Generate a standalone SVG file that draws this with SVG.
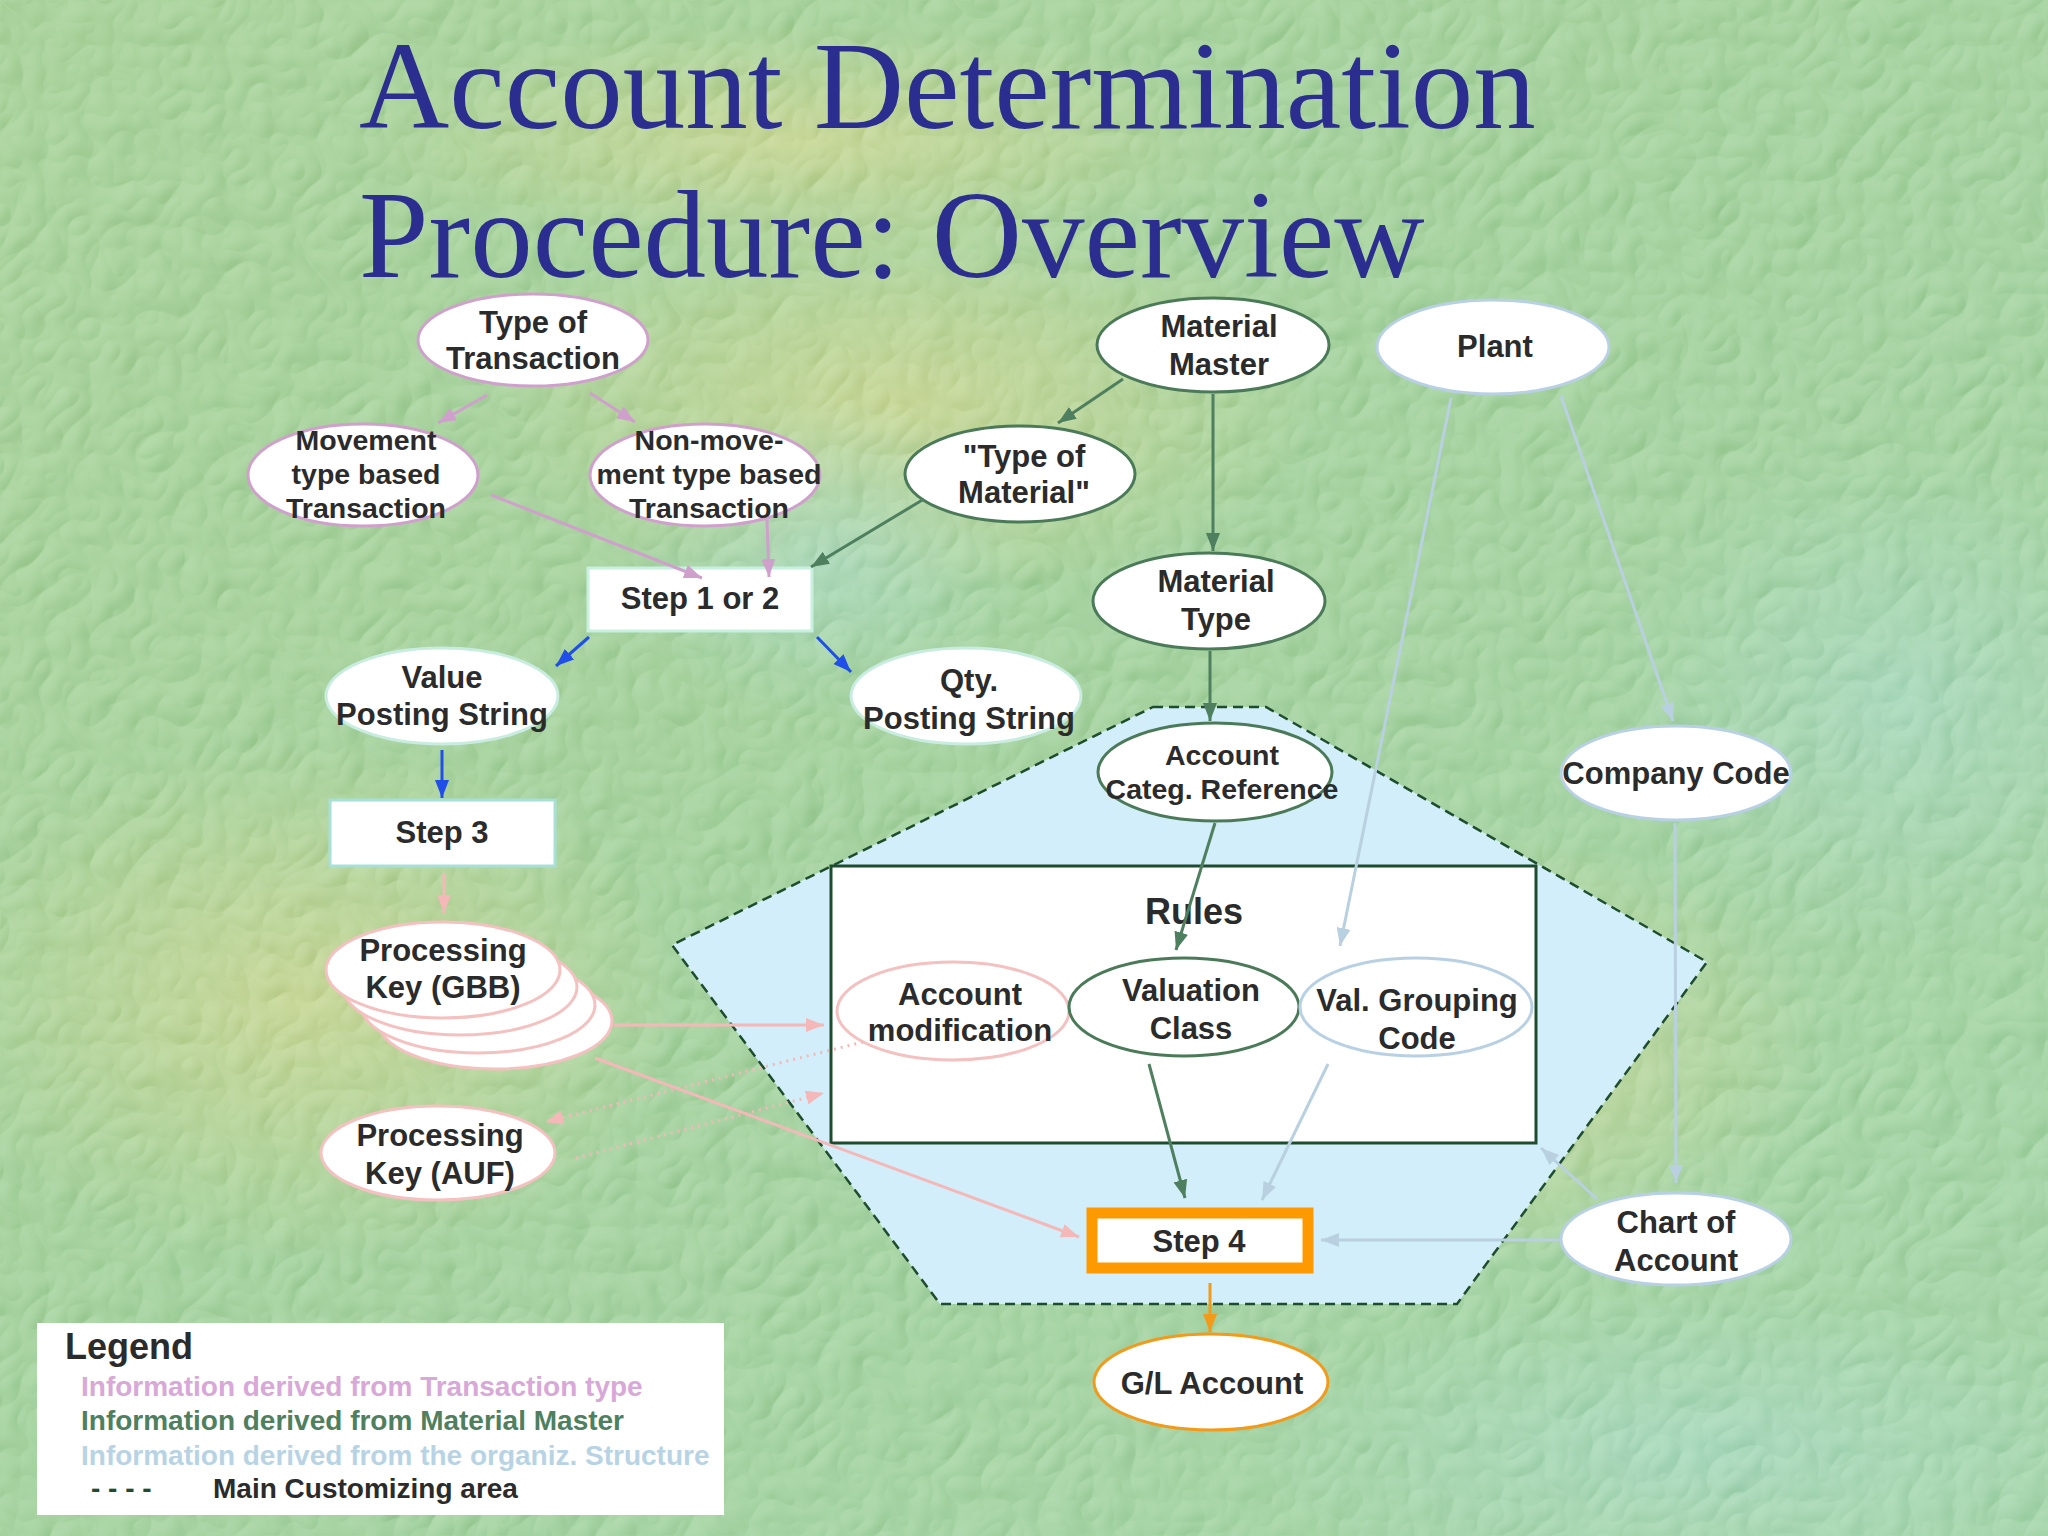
<svg xmlns="http://www.w3.org/2000/svg" width="2048" height="1536" viewBox="0 0 2048 1536">
<style>
.t{font-family:"Liberation Sans",Arial,sans-serif;font-weight:bold;fill:#2b2b2b;text-anchor:middle}
.s30{font-size:31px}.s28{font-size:28.5px}
.title{font-family:"Liberation Serif","Times New Roman",serif;font-size:125px;fill:#2b2e8e}
.nv{fill:#fff;stroke:#d0a0cc;stroke-width:3}
.ng{fill:#fff;stroke:#4a7a58;stroke-width:3}
.nb{fill:#fff;stroke:#b8d0e4;stroke-width:3}
.np{fill:#fff;stroke:#f4c0c0;stroke-width:3}
.nc{fill:#fff;stroke:#c8ece0;stroke-width:3}
.ev{stroke:#d0a0cc;stroke-width:3;fill:none;marker-end:url(#av)}
.eg{stroke:#4e7f5e;stroke-width:3;fill:none;marker-end:url(#ag)}
.eb{stroke:#1f4fe8;stroke-width:3;fill:none;marker-end:url(#ab)}
.ep{stroke:#f4b8b8;stroke-width:3;fill:none;marker-end:url(#ap)}
.epd{stroke:#f4b8b8;stroke-width:3;fill:none;stroke-dasharray:2 5;marker-end:url(#ap)}
.el{stroke:#b8d0e0;stroke-width:3;fill:none;marker-end:url(#al)}
.eo{stroke:#f29a1a;stroke-width:3;fill:none;marker-end:url(#ao)}
.lg{font-family:"Liberation Sans",Arial,sans-serif;font-weight:bold;font-size:28px}
</style>
<defs>
<marker id="av" markerUnits="userSpaceOnUse" markerWidth="18" markerHeight="14" refX="18" refY="7" orient="auto"><path d="M0,0 L18,7 L0,14 z" fill="#d0a0cc"/></marker>
<marker id="ag" markerUnits="userSpaceOnUse" markerWidth="18" markerHeight="14" refX="18" refY="7" orient="auto"><path d="M0,0 L18,7 L0,14 z" fill="#4e7f5e"/></marker>
<marker id="ab" markerUnits="userSpaceOnUse" markerWidth="18" markerHeight="14" refX="18" refY="7" orient="auto"><path d="M0,0 L18,7 L0,14 z" fill="#1f4fe8"/></marker>
<marker id="ap" markerUnits="userSpaceOnUse" markerWidth="18" markerHeight="14" refX="18" refY="7" orient="auto"><path d="M0,0 L18,7 L0,14 z" fill="#f4b8b8"/></marker>
<marker id="al" markerUnits="userSpaceOnUse" markerWidth="18" markerHeight="14" refX="18" refY="7" orient="auto"><path d="M0,0 L18,7 L0,14 z" fill="#b8d0e0"/></marker>
<marker id="ao" markerUnits="userSpaceOnUse" markerWidth="18" markerHeight="14" refX="18" refY="7" orient="auto"><path d="M0,0 L18,7 L0,14 z" fill="#f29a1a"/></marker>
<linearGradient id="bg" x1="0" y1="0" x2="1" y2="1">
<stop offset="0" stop-color="#a6cf98"/><stop offset="0.5" stop-color="#a2cf9c"/><stop offset="1" stop-color="#a2d2a6"/>
</linearGradient>
<radialGradient id="yel"><stop offset="0" stop-color="#d2d590" stop-opacity="0.7"/><stop offset="1" stop-color="#d2d590" stop-opacity="0"/></radialGradient>
<radialGradient id="cy"><stop offset="0" stop-color="#a8d8c8" stop-opacity="0.6"/><stop offset="1" stop-color="#a8d8c8" stop-opacity="0"/></radialGradient>
<filter id="tex" x="0" y="0" width="100%" height="100%" filterUnits="userSpaceOnUse">
<feTurbulence type="turbulence" baseFrequency="0.022" numOctaves="2" seed="7" result="n"/>
<feDiffuseLighting in="n" surfaceScale="4" diffuseConstant="1" lighting-color="#ffffff" result="l"><feDistantLight azimuth="225" elevation="55"/></feDiffuseLighting>
<feComposite in="SourceGraphic" in2="l" operator="arithmetic" k1="0" k2="1" k3="0.28" k4="-0.2"/>
</filter>
</defs>
<g id="background" filter="url(#tex)">
<rect width="2048" height="1536" fill="url(#bg)"/>
<ellipse cx="900" cy="400" rx="420" ry="200" fill="url(#yel)"/>
<ellipse cx="1450" cy="1050" rx="380" ry="220" fill="url(#yel)"/>
<ellipse cx="300" cy="1000" rx="380" ry="260" fill="url(#yel)"/>
<ellipse cx="800" cy="140" rx="450" ry="120" fill="url(#yel)"/>
<ellipse cx="830" cy="560" rx="200" ry="160" fill="url(#cy)"/>
<ellipse cx="1900" cy="700" rx="300" ry="260" fill="url(#cy)"/>
<ellipse cx="1700" cy="1450" rx="450" ry="160" fill="url(#cy)"/>
</g>
<g id="title">
<text class="title" x="359" y="128">Account Determination</text>
<text class="title" x="359" y="277">Procedure: Overview</text>
</g>
<g id="customizing-area">
<polygon points="1153,707 1266,707 1707,962 1457,1304 940,1304 672,945" fill="#d2eefa" stroke="#1e4d2e" stroke-width="2.5" stroke-dasharray="10 6"/>
</g>
<g id="rules">
<rect x="831" y="866" width="705" height="277" fill="#fff" stroke="#1e4d2e" stroke-width="3"/>
<text class="t" x="1194" y="924" style="font-size:36px">Rules</text>
</g>
<g id="type-of-transaction">
<ellipse class="nv" cx="533" cy="340" rx="115" ry="46"/>
<text class="t s30" x="533" y="333">Type of</text>
<text class="t s30" x="533" y="369">Transaction</text>
</g>
<g id="movement-type">
<ellipse class="nv" cx="363" cy="475" rx="115" ry="51"/>
<text class="t s28" x="366" y="450">Movement</text>
<text class="t s28" x="366" y="484">type based</text>
<text class="t s28" x="366" y="518">Transaction</text>
</g>
<g id="non-movement-type">
<ellipse class="nv" cx="705" cy="475" rx="115" ry="51"/>
<text class="t s28" x="709" y="450">Non-move-</text>
<text class="t s28" x="709" y="484">ment type based</text>
<text class="t s28" x="709" y="518">Transaction</text>
</g>
<g id="step-1-or-2">
<rect x="588" y="568" width="224" height="63" fill="#fff" stroke="#c8f0e0" stroke-width="3"/>
<text class="t s30" x="700" y="609">Step 1 or 2</text>
</g>
<g id="type-of-material">
<ellipse class="ng" cx="1020" cy="474" rx="115" ry="48"/>
<text class="t s30" x="1024" y="467">"Type of</text>
<text class="t s30" x="1024" y="503">Material"</text>
</g>
<g id="material-master">
<ellipse class="ng" cx="1213" cy="345" rx="116" ry="47"/>
<text class="t s30" x="1219" y="337">Material</text>
<text class="t s30" x="1219" y="375">Master</text>
</g>
<g id="plant">
<ellipse class="nb" cx="1493" cy="347" rx="116" ry="47"/>
<text class="t s30" x="1495" y="357">Plant</text>
</g>
<g id="material-type">
<ellipse class="ng" cx="1209" cy="601" rx="116" ry="48"/>
<text class="t s30" x="1216" y="592">Material</text>
<text class="t s30" x="1216" y="630">Type</text>
</g>
<g id="value-posting-string">
<ellipse class="nc" cx="442" cy="696" rx="116" ry="48"/>
<text class="t s30" x="442" y="688">Value</text>
<text class="t s30" x="442" y="725">Posting String</text>
</g>
<g id="qty-posting-string">
<ellipse class="nc" cx="966" cy="696" rx="115" ry="48"/>
<text class="t s30" x="969" y="691">Qty.</text>
<text class="t s30" x="969" y="729">Posting String</text>
</g>
<g id="step-3">
<rect x="330" y="800" width="225" height="66" fill="#fff" stroke="#a8e0d8" stroke-width="3"/>
<text class="t s30" x="442" y="843">Step 3</text>
</g>
<g id="processing-key-gbb">
<ellipse class="np" cx="495" cy="1021" rx="117" ry="48"/>
<ellipse class="np" cx="478" cy="1005" rx="117" ry="48"/>
<ellipse class="np" cx="460" cy="987" rx="117" ry="48"/>
<ellipse class="np" cx="443" cy="970" rx="117" ry="48"/>
<text class="t s30" x="443" y="961">Processing</text>
<text class="t s30" x="443" y="998">Key (GBB)</text>
</g>
<g id="processing-key-auf">
<ellipse class="np" cx="438" cy="1153" rx="117" ry="47"/>
<text class="t s30" x="440" y="1146">Processing</text>
<text class="t s30" x="440" y="1184">Key (AUF)</text>
</g>
<g id="account-categ-reference">
<ellipse class="ng" cx="1215" cy="772" rx="117" ry="49"/>
<text class="t s28" x="1222" y="765">Account</text>
<text class="t s28" x="1222" y="799">Categ. Reference</text>
</g>
<g id="account-modification">
<ellipse class="np" cx="953" cy="1011" rx="116" ry="49"/>
<text class="t s30" x="960" y="1005">Account</text>
<text class="t s30" x="960" y="1041">modification</text>
</g>
<g id="valuation-class">
<ellipse class="ng" cx="1184" cy="1007" rx="115" ry="49"/>
<text class="t s30" x="1191" y="1001">Valuation</text>
<text class="t s30" x="1191" y="1039">Class</text>
</g>
<g id="val-grouping-code">
<ellipse class="nb" cx="1416" cy="1007" rx="116" ry="49"/>
<text class="t s30" x="1417" y="1011">Val. Grouping</text>
<text class="t s30" x="1417" y="1049">Code</text>
</g>
<g id="company-code">
<ellipse class="nb" cx="1676" cy="773" rx="115" ry="47"/>
<text class="t s30" x="1676" y="784">Company Code</text>
</g>
<g id="chart-of-account">
<ellipse class="nb" cx="1676" cy="1239" rx="115" ry="46"/>
<text class="t s30" x="1676" y="1233">Chart of</text>
<text class="t s30" x="1676" y="1271">Account</text>
</g>
<g id="step-4">
<rect x="1092" y="1213" width="216" height="55" fill="#fff" stroke="#ff9900" stroke-width="11"/>
<text class="t s30" x="1199" y="1252">Step 4</text>
</g>
<g id="gl-account">
<ellipse cx="1211" cy="1382" rx="117" ry="48" fill="#fff" stroke="#f29a1a" stroke-width="3"/>
<text class="t s30" x="1212" y="1394">G/L Account</text>
</g>
<g id="connectors">
<line class="ev" x1="487" y1="395" x2="438" y2="423"/>
<line class="ev" x1="590" y1="393" x2="635" y2="422"/>
<line class="ev" x1="491" y1="495" x2="702" y2="578"/>
<line class="ev" x1="767" y1="520" x2="769" y2="577"/>
<line class="eg" x1="924" y1="499" x2="811" y2="567"/>
<line class="eg" x1="1123" y1="379" x2="1058" y2="423"/>
<line class="eg" x1="1213" y1="394" x2="1213" y2="551"/>
<line class="eg" x1="1210" y1="651" x2="1210" y2="721"/>
<line class="eb" x1="589" y1="637" x2="556" y2="666"/>
<line class="eb" x1="817" y1="637" x2="851" y2="672"/>
<line class="eb" x1="442" y1="750" x2="442" y2="798"/>
<line class="ep" x1="444" y1="873" x2="444" y2="913"/>
<line class="ep" x1="614" y1="1025" x2="824" y2="1025"/>
<line class="ep" x1="595" y1="1058" x2="1079" y2="1237"/>
<line class="epd" x1="863" y1="1042" x2="545" y2="1122"/>
<line class="epd" x1="576" y1="1158" x2="824" y2="1093"/>
<line class="eg" x1="1215" y1="823" x2="1176" y2="950"/>
<line class="el" x1="1451" y1="398" x2="1340" y2="946"/>
<line class="el" x1="1561" y1="396" x2="1673" y2="721"/>
<line class="el" x1="1675" y1="823" x2="1676" y2="1183"/>
<line class="el" x1="1597" y1="1199" x2="1541" y2="1148"/>
<line class="el" x1="1559" y1="1240" x2="1321" y2="1240"/>
<line class="eg" x1="1149" y1="1064" x2="1185" y2="1198"/>
<line class="el" x1="1328" y1="1064" x2="1262" y2="1200"/>
<line class="eo" x1="1210" y1="1283" x2="1210" y2="1332"/>
</g>
<g id="legend">
<rect x="37" y="1323" width="687" height="192" fill="#fff"/>
<text class="lg" x="65" y="1359" style="font-size:36px;fill:#2b2b2b">Legend</text>
<text class="lg" x="81" y="1396" fill="#d8a8d8">Information derived from Transaction type</text>
<text class="lg" x="81" y="1430" fill="#4e8060">Information derived from Material Master</text>
<text class="lg" x="81" y="1465" fill="#b8d4e4">Information derived from the organiz. Structure</text>
<text class="lg" x="91" y="1498" fill="#1e4d2e">- - - -</text>
<text class="lg" x="213" y="1498" fill="#2b2b2b">Main Customizing area</text>
</g>
</svg>
